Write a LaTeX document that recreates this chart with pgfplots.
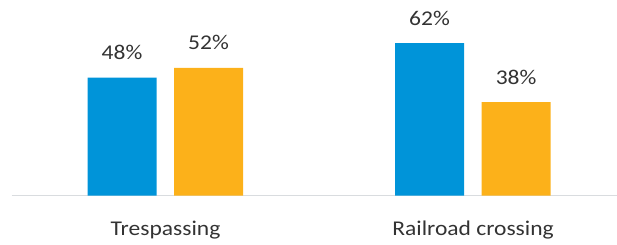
\documentclass[border=0pt]{standalone}
\usepackage{pgfplots}
\pgfplotsset{compat=1.18}
\usepackage{fontspec}
\setmainfont{Carlito}[FakeStretch=1.12]
\definecolor{cblue}{HTML}{0094D9}
\definecolor{corange}{HTML}{FCB11A}
\definecolor{ctext}{HTML}{333333}
\definecolor{cline}{HTML}{D9DCDF}
\begin{document}
\begin{tikzpicture}
\begin{axis}[
  name=ax,
  scale only axis,
  width=605.25pt, height=195.5pt,
  xmin=-0.5, xmax=1.468,
  ymin=0, ymax=79.6,
  ybar, bar width=69pt,
  hide y axis,
  axis x line=bottom,
  x axis line style={-, draw=cline, line width=1.3pt},
  xtick={0,1},
  xticklabels={Trespassing, Railroad crossing},
  xtick style={draw=none},
  xticklabel style={anchor=base, yshift=-38pt, inner sep=0pt, text=ctext, font=\fontsize{21}{25}\selectfont},
  point meta=explicit symbolic,
  nodes near coords,
  every node near coord/.append style={anchor=base, yshift=18pt, inner sep=0pt, text=ctext, font=\fontsize{21}{25}\selectfont},
  clip=false,
]
\addplot[fill=cblue, draw=none, bar shift=-43.5pt] coordinates {(0,48) [48\%] (1,62) [62\%]};
\addplot[fill=corange, draw=none, bar shift=43pt] coordinates {(0,52) [52\%] (1,38) [38\%]};
\end{axis}
\pgfresetboundingbox
\path[use as bounding box] ([xshift=-11.75pt, yshift=-48.5pt]ax.south west) rectangle (ax.north east);
\end{tikzpicture}
\end{document}
